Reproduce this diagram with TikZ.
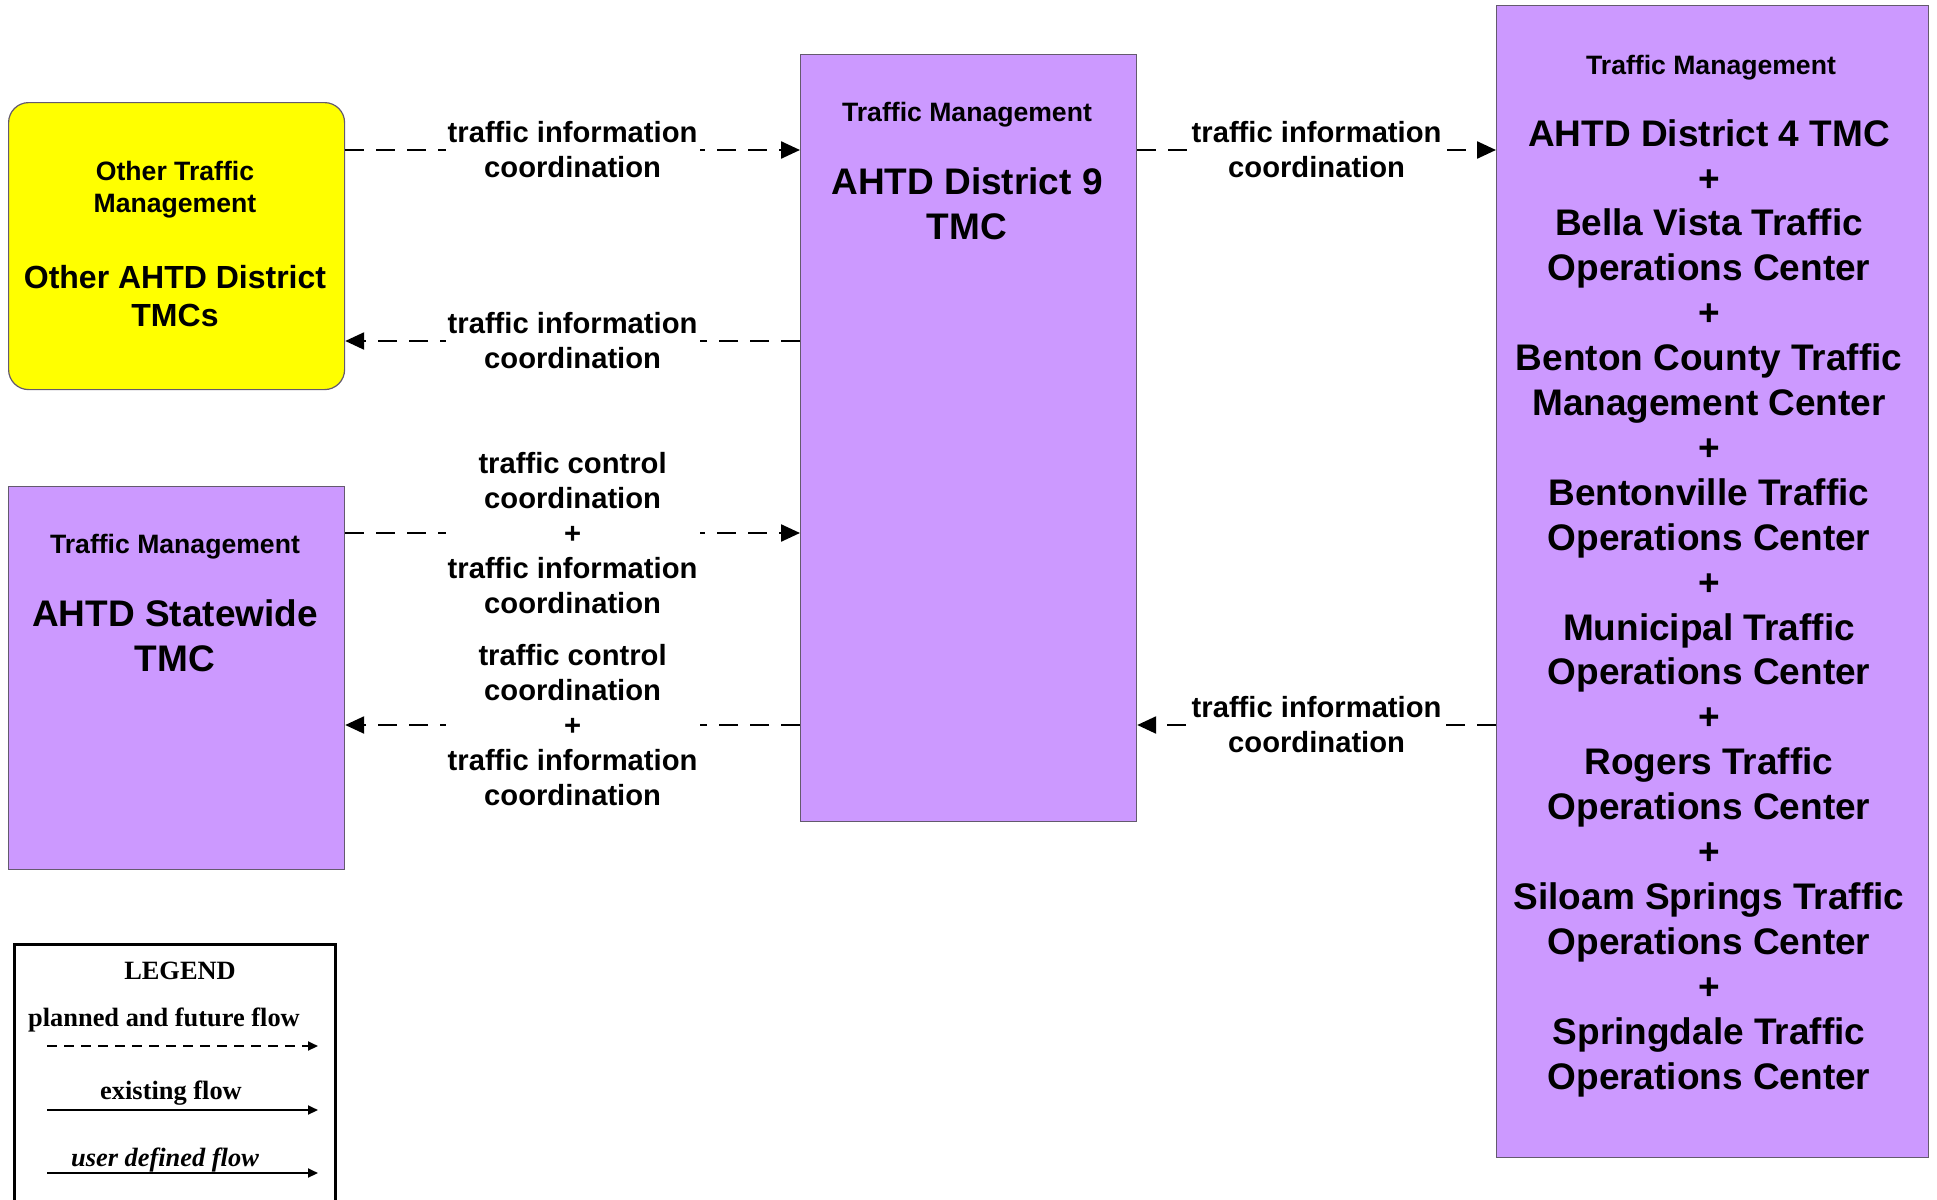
\documentclass[tikz,border=0pt]{standalone}
\usepackage{fontspec}
\setmainfont{Liberation Sans}
\newfontfamily\legfont{Liberation Serif}
\usetikzlibrary{arrows.meta}
\definecolor{purp}{RGB}{204,153,255}
\definecolor{yelfill}{RGB}{255,255,0}
\definecolor{edgecol}{RGB}{100,90,110}
\tikzset{
  boxp/.style={draw=edgecol, line width=0.6pt, fill=purp, anchor=north west, inner sep=0pt},
  boxy/.style={draw=edgecol, line width=0.6pt, fill=yelfill, anchor=north west, inner sep=0pt, rounded corners=10pt},
  hdr/.style={font=\bfseries\fontsize{13.3}{16}\selectfont, align=center, inner sep=0pt},
  big/.style={font=\bfseries\fontsize{18.5}{22.45}\selectfont, align=center, inner sep=0pt},
  bigy/.style={font=\bfseries\fontsize{16}{19.2}\selectfont, align=center, inner sep=0pt},
  flowlab/.style={font=\bfseries\fontsize{14.6}{17.5}\selectfont, align=center, fill=white, inner xsep=1pt, inner ysep=0pt, midway},
  flow/.style={line width=1.2pt, dash pattern=on 9.5pt off 6pt, -{Triangle[length=9.5pt,width=8.5pt]}},
  legtxt/.style={font=\legfont\bfseries\fontsize{13.2}{15}\selectfont, inner sep=0pt},
  legdash/.style={line width=1pt, dash pattern=on 5pt off 3.5pt, -{Triangle[length=5pt,width=4.5pt]}},
  legsolid/.style={line width=1pt, -{Triangle[length=5pt,width=4.5pt]}},
}
\begin{document}
\begin{tikzpicture}[x=0.5pt,y=-0.5pt]
\clip (0,0) rectangle (1937,1199);
\fill[white] (0,0) rectangle (1937,1199);

% boxes
\node[boxy, minimum width=168pt, minimum height=143.5pt] (other) at (8,102) {};
\node[boxp, minimum width=168pt, minimum height=191.5pt] (state) at (8,486) {};
\node[boxp, minimum width=168pt, minimum height=383.5pt] (d9) at (800,54) {};
\node[boxp, minimum width=216pt, minimum height=576pt] (d4) at (1496,5) {};

% box texts
\node[hdr] (otherh) at (175,189.5) {Other Traffic\\Management};
\node[bigy] (othert) at (175,296) {Other AHTD District\\TMCs};
\node[hdr] (stateh) at (175,547) {Traffic Management};
\node[big] (statet) at (175,636) {AHTD Statewide\\TMC};
\node[hdr] (d9h) at (967,115) {Traffic Management};
\node[big] (d9t) at (967,204) {AHTD District 9\\TMC};
\node[hdr] (d4h) at (1711,67.5) {Traffic Management};
\node[big] (d4t) at (1709,608) {AHTD District 4 TMC\\+\\Bella Vista Traffic\\Operations Center\\+\\Benton County Traffic\\Management Center\\+\\Bentonville Traffic\\Operations Center\\+\\Municipal Traffic\\Operations Center\\+\\Rogers Traffic\\Operations Center\\+\\Siloam Springs Traffic\\Operations Center\\+\\Springdale Traffic\\Operations Center};

% flows
\draw[flow] (other.east |- 0,150) -- node[flowlab] (l1) {traffic information\\coordination} (d9.west |- 0,150);
\draw[flow] (d9.west |- 0,341) -- node[flowlab] (l2) {traffic information\\coordination} (other.east |- 0,341);
\draw[flow] (state.east |- 0,533) -- node[flowlab] (l3) {traffic control\\coordination\\+\\traffic information\\coordination} (d9.west |- 0,533);
\draw[flow] (d9.west |- 0,725) -- node[flowlab] (l4) {traffic control\\coordination\\+\\traffic information\\coordination} (state.east |- 0,725);
\draw[flow] (d9.east |- 0,150) -- node[flowlab] (l5) {traffic information\\coordination} (d4.west |- 0,150);
\draw[flow] (d4.west |- 0,725) -- node[flowlab] (l6) {traffic information\\coordination} (d9.east |- 0,725);

% legend
\node[draw, line width=1.5pt, anchor=north west, minimum width=160.5pt, minimum height=140pt, inner sep=0pt] (legend) at (13,943) {};
\node[legtxt] (legt) at (180,971) {LEGEND};
\node[legtxt] (leg1) at (164,1020) {planned and future flow};
\node[legtxt] (leg2) at (171,1093) {existing flow};
\node[legtxt] (leg3) at (165,1160) {\itshape user defined flow};
\coordinate (a1) at (47,1046);
\coordinate (b1) at (318,1046);
\coordinate (a2) at (47,1110);
\coordinate (b2) at (318,1110);
\coordinate (a3) at (47,1173);
\coordinate (b3) at (318,1173);
\draw[legdash] (a1) -- (b1);
\draw[legsolid] (a2) -- (b2);
\draw[legsolid] (a3) -- (b3);
\end{tikzpicture}
\end{document}
